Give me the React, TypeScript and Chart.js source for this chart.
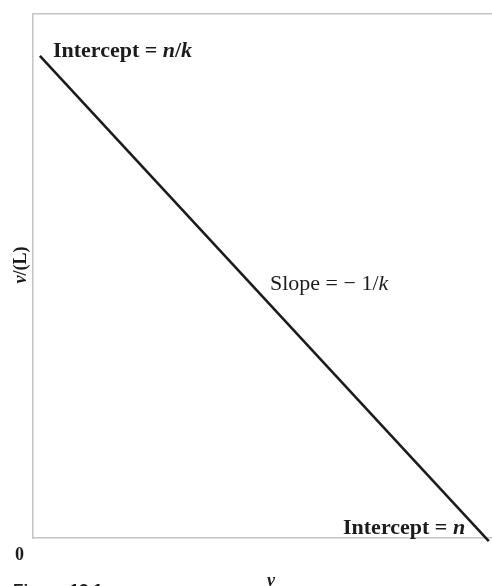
import React, { useEffect, useRef } from "react";
import { Chart, registerables } from "chart.js";

Chart.register(...registerables);

// Scatchard plot: v/[L] against v, a straight line with slope -1/k
const boundValues = [1.5, 99.3]; // v
const ratioValues = [92, -0.6]; // v/[L]

const AXIS_COLOR = "#c4c4c4";
const INK = "#1c1c1c";
const SERIF = '"Liberation Serif", "DejaVu Serif", serif';

type Run = { text: string; italic?: boolean };

function drawRuns(ctx: CanvasRenderingContext2D, runs: Run[], x: number, y: number, size: number, bold: boolean) {
  let cx = x;
  for (const r of runs) {
    ctx.font = `${r.italic ? "italic " : ""}${bold ? "bold " : ""}${size}px ${SERIF}`;
    ctx.fillText(r.text, cx, y);
    cx += ctx.measureText(r.text).width;
  }
}

const labelsPlugin = {
  id: "scatchardLabels",
  afterDraw(chart: any) {
    const { ctx, chartArea, scales } = chart;
    const xs = scales.x;
    const ys = scales.y;
    ctx.save();
    ctx.fillStyle = INK;
    ctx.textBaseline = "alphabetic";
    ctx.textAlign = "left";

    const sx = xs.getPixelForValue(boundValues[0]);
    const sy = ys.getPixelForValue(ratioValues[0]);
    drawRuns(ctx, [{ text: "Intercept = " }, { text: "n", italic: true }, { text: "/" }, { text: "k", italic: true }], sx + 13, sy + 1, 22, true);

    drawRuns(ctx, [{ text: "Slope = \u2212 1/" }, { text: "k", italic: true }], chartArea.left + 237, chartArea.top + 276, 22, false);

    drawRuns(ctx, [{ text: "Intercept = " }, { text: "n", italic: true }], chartArea.left + 310, chartArea.bottom - 4, 22, true);

    // origin label
    ctx.font = `bold 18px ${SERIF}`;
    ctx.fillText("0", 15, chartArea.bottom + 22);

    // x axis title
    ctx.font = `italic bold 18px ${SERIF}`;
    ctx.fillText("v", 267, 586);

    // y axis title
    ctx.save();
    ctx.translate(26, 265);
    ctx.rotate(-Math.PI / 2);
    const parts: Run[] = [{ text: "v", italic: true }, { text: "/(L)" }];
    let total = 0;
    for (const p of parts) {
      ctx.font = `${p.italic ? "italic " : ""}bold 18px ${SERIF}`;
      total += ctx.measureText(p.text).width;
    }
    drawRuns(ctx, parts, -total / 2, 0, 18, true);
    ctx.restore();

    // figure caption
    ctx.font = `bold 17px "Liberation Sans", Arial, sans-serif`;
    ctx.fillText("Figure 13.1", 13, 596);
    ctx.restore();
  },
};

export default function App() {
  const canvasRef = useRef<HTMLCanvasElement | null>(null);

  useEffect(() => {
    if (!canvasRef.current) return;
    const chart = new Chart(canvasRef.current, {
      type: "line",
      data: {
        datasets: [
          {
            data: boundValues.map((v, i) => ({ x: v, y: ratioValues[i] })),
            borderColor: INK,
            borderWidth: 2.6,
            pointRadius: 0,
            tension: 0,
            clip: false as any,
          },
        ],
      },
      options: {
        animation: false,
        responsive: false,
        maintainAspectRatio: false,
        layout: { padding: { left: 33, top: 14, right: 0, bottom: 48 } },
        plugins: { legend: { display: false }, tooltip: { enabled: false } },
        scales: {
          x: {
            type: "linear",
            min: 0,
            max: 100,
            position: "bottom",
            grid: { display: false, drawTicks: false },
            ticks: { display: false },
            border: { display: true, color: AXIS_COLOR, width: 1.5, dash: [9, 2] },
          },
          x2: {
            type: "linear",
            min: 0,
            max: 100,
            position: "top",
            grid: { display: false, drawTicks: false },
            ticks: { display: false },
            border: { display: true, color: AXIS_COLOR, width: 1.5, dash: [9, 2] },
          },
          y: {
            type: "linear",
            min: 0,
            max: 100,
            position: "left",
            grid: { display: false, drawTicks: false },
            ticks: { display: false },
            border: { display: true, color: AXIS_COLOR, width: 1.5, dash: [12, 2] },
          },
        },
      },
      plugins: [labelsPlugin],
    });
    return () => chart.destroy();
  }, []);

  return (
    <div style={{ position: "fixed", left: 0, top: 0, width: 492, height: 586, background: "#fff" }}>
      <canvas ref={canvasRef} width={492} height={586} style={{ display: "block" }} />
    </div>
  );
}
